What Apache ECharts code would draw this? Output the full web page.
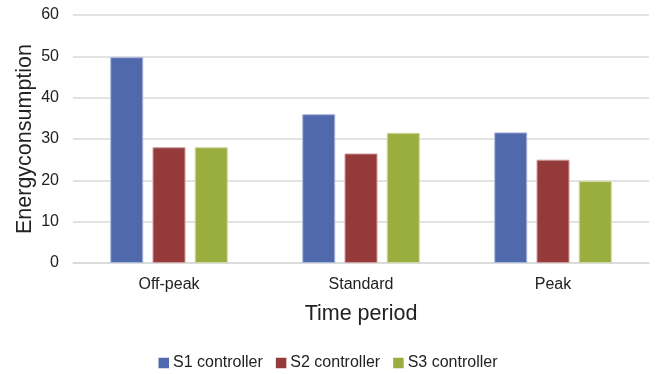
<!DOCTYPE html>
<html>
<head>
<meta charset="utf-8">
<script src="https://cdn.jsdelivr.net/npm/echarts@6/dist/echarts.min.js"></script>
<style>
  html, body { margin: 0; padding: 0; background: #fff; }
  #chart { width: 656px; height: 374px; }
</style>
</head>
<body>
<div id="chart"></div>
<script>
// Time periods on the x axis
const periods = ['Off-peak', 'Standard', 'Peak'];
// Energy consumption per controller
const s1Values = [49.8, 36.0, 31.6];
const s2Values = [28.0, 26.5, 25.0];
const s3Values = [28.0, 31.5, 19.8];
const seriesNames = ['S1 controller', 'S2 controller', 'S3 controller'];

const fills = ['#5068ac', '#953a3b', '#9aad3f'];
const edges = ['#a9b6dc', '#d19c9c', '#cdd99a'];
const font = 'Liberation Sans, Arial, Helvetica, sans-serif';

const chart = echarts.init(document.getElementById('chart'), null, { renderer: 'canvas' });

function bar(name, data, i) {
  return {
    name: name,
    type: 'bar',
    data: data,
    barWidth: 33,
    barGap: '28%',
    itemStyle: { color: fills[i], borderColor: edges[i], borderWidth: 1 }
  };
}

chart.setOption({
  animation: false,
  textStyle: { fontFamily: font },
  grid: { left: 73, right: 7, top: 15, bottom: 111, outerBoundsMode: 'none', containLabel: false },
  legend: {
    top: 355,
    left: 'center',
    padding: 0,
    itemWidth: 10.5,
    itemHeight: 10.5,
    itemGap: 13,
    icon: 'rect',
    itemStyle: { borderWidth: 0 },
    textStyle: { fontSize: 16, color: '#222', fontFamily: font, padding: [0, 0, 0, -1] },
    data: seriesNames
  },
  xAxis: {
    type: 'category',
    data: periods,
    name: 'Time period',
    nameLocation: 'middle',
    nameGap: 40,
    nameMoveOverlap: false,
    nameTextStyle: { fontSize: 21.5, color: '#222', fontFamily: font, verticalAlign: 'top' },
    axisLine: { lineStyle: { color: '#d9d9d9', width: 1.5 } },
    axisTick: { show: false },
    axisLabel: { fontSize: 16, color: '#222', margin: 14, fontFamily: font }
  },
  yAxis: {
    type: 'value',
    min: 0,
    max: 60,
    interval: 10,
    name: 'Energyconsumption',
    nameLocation: 'middle',
    nameGap: 37,
    nameMoveOverlap: false,
    nameRotate: 90,
    nameTextStyle: { fontSize: 21.5, color: '#222', fontFamily: font },
    axisLine: { show: false },
    axisTick: { show: false },
    axisLabel: { fontSize: 16, color: '#222', margin: 14, fontFamily: font },
    splitLine: { lineStyle: { color: '#d9d9d9', width: 1.5 } }
  },
  series: [
    bar(seriesNames[0], s1Values, 0),
    bar(seriesNames[1], s2Values, 1),
    bar(seriesNames[2], s3Values, 2)
  ]
});
</script>
</body>
</html>
